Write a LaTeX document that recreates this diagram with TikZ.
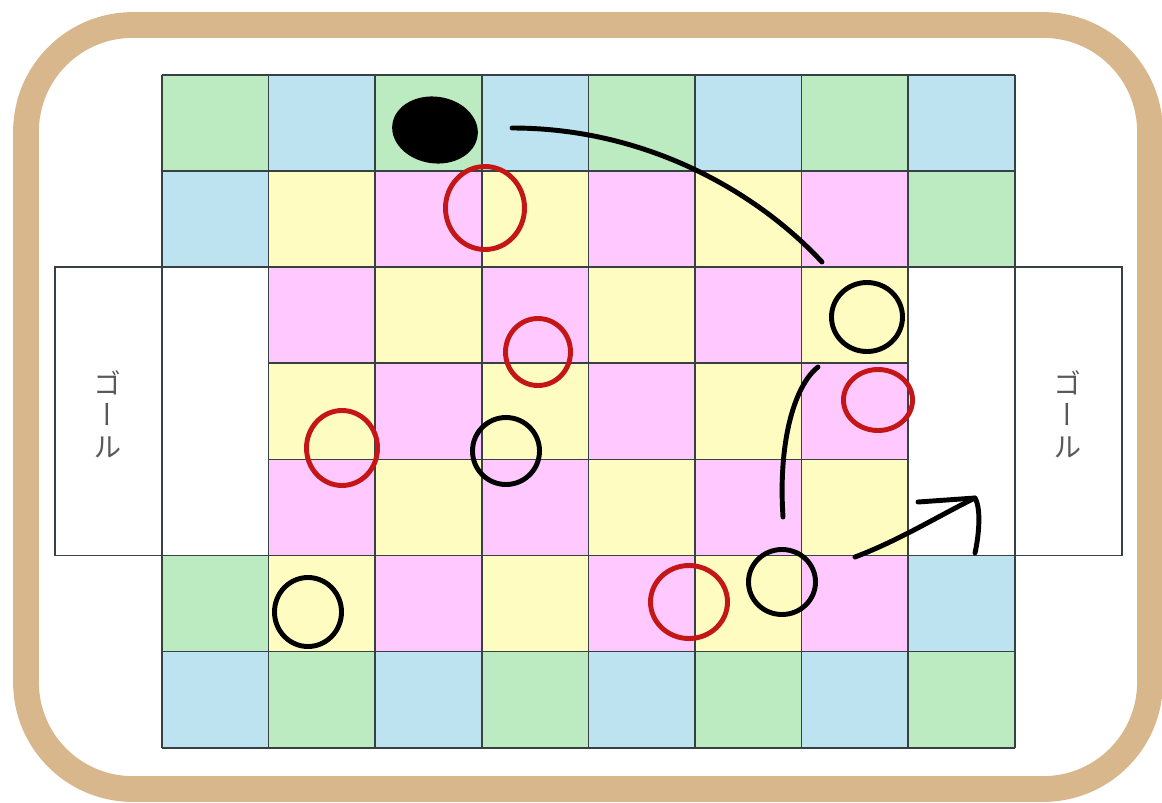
\documentclass[tikz,border=0pt]{standalone}
\usepackage{xcolor}
\usepackage{tikz}
\usetikzlibrary{shapes.geometric}
\usepackage{fontspec}
\newfontfamily\jpfont[RawFeature=+vert]{Noto Sans CJK JP}
\definecolor{fieldgreen}{RGB}{189,235,193}
\definecolor{fieldblue}{RGB}{189,226,240}
\definecolor{fieldyellow}{RGB}{255,252,194}
\definecolor{fieldpink}{RGB}{255,200,255}
\definecolor{frametan}{RGB}{217,183,140}
\definecolor{gridgray}{RGB}{55,64,66}
\definecolor{penred}{RGB}{196,22,22}

\begin{document}
\begin{tikzpicture}[
    x=0.03cm, y=-0.03cm,
    gridrule/.style={draw=gridgray, line width=1.5pt},
    goaltext/.style={font=\jpfont\fontsize{24}{27}\selectfont, text=black!65, align=center, inner sep=0pt},
    ring/.style={draw, ellipse, line width=4.2pt, inner sep=0pt},
    redring/.style={ring, draw=penred},
    blackring/.style={ring, draw=black},
    puck/.style={ellipse, fill=black, inner sep=0pt},
    pen/.style={line width=4.2pt, line cap=round, line join=round},
]
\useasboundingbox (0,0) rectangle (1162,802);
\draw[frametan, line width=22pt, rounded corners=3.2cm] (26,25) rectangle (1150,789);

\foreach \row [count=\j from 0] in {
    {fieldgreen,fieldblue,fieldgreen,fieldblue,fieldgreen,fieldblue,fieldgreen,fieldblue},
    {fieldblue,fieldyellow,fieldpink,fieldyellow,fieldpink,fieldyellow,fieldpink,fieldgreen},
    {white,fieldpink,fieldyellow,fieldpink,fieldyellow,fieldpink,fieldyellow,white},
    {white,fieldyellow,fieldpink,fieldyellow,fieldpink,fieldyellow,fieldpink,white},
    {white,fieldpink,fieldyellow,fieldpink,fieldyellow,fieldpink,fieldyellow,white},
    {fieldgreen,fieldyellow,fieldpink,fieldyellow,fieldpink,fieldyellow,fieldpink,fieldblue},
    {fieldblue,fieldgreen,fieldblue,fieldgreen,fieldblue,fieldgreen,fieldblue,fieldgreen}}
  \foreach \c [count=\i from 0] in \row
    \fill[\c] (162+106.6*\i, 75+96.1*\j) rectangle ++(106.6,96.1);

\foreach \i in {0,...,8}
  \draw[gridrule] (162+106.6*\i,75) -- (162+106.6*\i,748);
\foreach \j in {0,1,2,5,6,7}
  \draw[gridrule] (162,75+96.1*\j) -- (1015,75+96.1*\j);
\foreach \j in {3,4}
  \draw[gridrule] (268.6,75+96.1*\j) -- (908.2,75+96.1*\j);

\draw[gridrule] (55,267.2) rectangle (268.6,555.5);
\draw[gridrule] (908.2,267.2) rectangle (1122,555.5);
\node[goaltext] (goalL) at (108,414) {ゴ\\ー\\ル};
\node[goaltext] (goalR) at (1068,414) {ゴ\\ー\\ル};

\node[puck, minimum width=2.58cm, minimum height=2.0cm, rotate=-8] (ball) at (435,130) {};
\node[redring, minimum width=2.37cm, minimum height=2.49cm] (red1) at (485,208) {};
\node[redring, minimum width=1.95cm, minimum height=2.01cm] (red2) at (538,352) {};
\node[redring, minimum width=2.13cm, minimum height=2.25cm] (red3) at (342,448) {};
\node[redring, minimum width=2.31cm, minimum height=2.19cm] (red4) at (689,602) {};
\node[redring, minimum width=2.07cm, minimum height=1.83cm] (red5) at (878,400) {};
\node[blackring, minimum width=2.13cm, minimum height=2.07cm] (blk1) at (867,317) {};
\node[blackring, minimum width=2.01cm, minimum height=2.01cm] (blk2) at (506,451) {};
\node[blackring, minimum width=2.01cm, minimum height=2.07cm] (blk3) at (308,612) {};
\node[blackring, minimum width=2.01cm, minimum height=1.95cm] (blk4) at (782,582) {};

\coordinate (passA) at (512,128);
\coordinate (passB) at (822,262);
\coordinate (passC) at (818,367);
\coordinate (passD) at (783,517);
\coordinate (shotA) at (855,557);
\coordinate (shotB) at (975,498);
\coordinate (headL) at (918,502);
\coordinate (headR) at (975,553);

\draw[pen] (passA) .. controls (650,128) and (760,195) .. (passB);
\draw[pen] (passC) .. controls (795,385) and (778,440) .. (passD);
\draw[pen] (shotA) .. controls (900,540) and (940,515) .. (shotB);
\draw[pen] (headL) -- (shotB) .. controls (982,510) and (978,540) .. (headR);
\end{tikzpicture}
\end{document}
